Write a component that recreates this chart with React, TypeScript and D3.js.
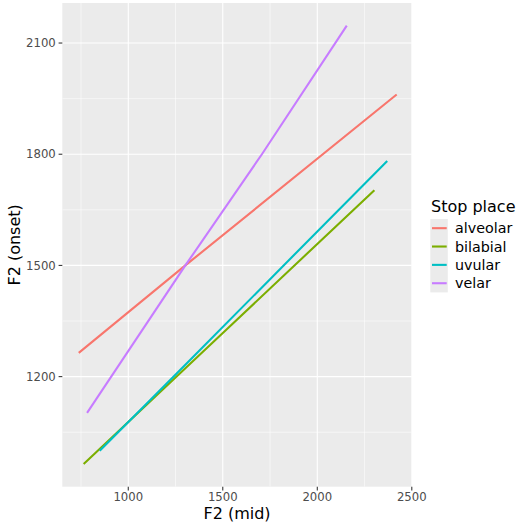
import React from "react";
import * as d3 from "d3";

const W = 519;
const H = 527;

const places = ["alveolar", "bilabial", "uvular", "velar"];
const colors = ["#F8766D", "#7CAE00", "#00BFC4", "#C77CFF"];

const alveolarX = [738, 1302, 2420];
const alveolarY = [1264, 1500, 1961];
const bilabialX = [764, 1503, 2302];
const bilabialY = [964, 1319, 1703];
const uvularX = [849, 1327, 2370];
const uvularY = [1000, 1245, 1782];
const velarX = [782, 1302, 1707, 2156];
const velarY = [1102, 1500, 1800, 2147];

const xTicks = [1000, 1500, 2000, 2500];
const xMinor = [750, 1250, 1750, 2250];
const yTicks = [1200, 1500, 1800, 2100];
const yMinor = [1050, 1350, 1650, 1950];

const seriesX = [alveolarX, bilabialX, uvularX, velarX];
const seriesY = [alveolarY, bilabialY, uvularY, velarY];

const FONT = "DejaVu Sans, sans-serif";

export default function App() {
  const panel = { left: 62.3, right: 411.8, top: 3, bottom: 486.7 };
  const x = d3.scaleLinear().domain([651, 2500]).range([panel.left, panel.right]);
  const y = d3.scaleLinear().domain([903, 2208]).range([panel.bottom, panel.top]);

  const line = d3
    .line<[number, number]>()
    .x((d) => x(d[0]))
    .y((d) => y(d[1]));

  const keyTop = 219;
  const keyH = 18.35;

  return (
    <svg
      width={W}
      height={H}
      style={{ position: "absolute", left: 0, top: 0, background: "#fff" }}
      fontFamily={FONT}
    >
      <rect
        x={panel.left}
        y={panel.top}
        width={panel.right - panel.left}
        height={panel.bottom - panel.top}
        fill="#EBEBEB"
      />
      <clipPath id="clip">
        <rect
          x={panel.left}
          y={panel.top}
          width={panel.right - panel.left}
          height={panel.bottom - panel.top}
        />
      </clipPath>
      <g clipPath="url(#clip)">
        {xMinor.map((t) => (
          <line key={"xm" + t} x1={x(t)} x2={x(t)} y1={panel.top} y2={panel.bottom} stroke="#fff" strokeWidth={0.55} />
        ))}
        {yMinor.map((t) => (
          <line key={"ym" + t} y1={y(t)} y2={y(t)} x1={panel.left} x2={panel.right} stroke="#fff" strokeWidth={0.55} />
        ))}
        {xTicks.map((t) => (
          <line key={"xM" + t} x1={x(t)} x2={x(t)} y1={panel.top} y2={panel.bottom} stroke="#fff" strokeWidth={1.1} />
        ))}
        {yTicks.map((t) => (
          <line key={"yM" + t} y1={y(t)} y2={y(t)} x1={panel.left} x2={panel.right} stroke="#fff" strokeWidth={1.1} />
        ))}
        {places.map((p, i) => {
          const pts = seriesX[i].map((v, j) => [v, seriesY[i][j]] as [number, number]);
          return (
            <path key={p} d={line(pts) || ""} fill="none" stroke={colors[i]} strokeWidth={2.1} />
          );
        })}
      </g>
      {/* x axis */}
      {xTicks.map((t) => (
        <g key={"xt" + t}>
          <line x1={x(t)} x2={x(t)} y1={panel.bottom} y2={panel.bottom + 3.7} stroke="#333" strokeWidth={1.07} />
          <text x={x(t)} y={panel.bottom + 14.5} textAnchor="middle" fontSize={11.7} fill="#4D4D4D">
            {t}
          </text>
        </g>
      ))}
      {yTicks.map((t) => (
        <g key={"yt" + t}>
          <line x1={panel.left - 3.7} x2={panel.left} y1={y(t)} y2={y(t)} stroke="#333" strokeWidth={1.07} />
          <text x={panel.left - 6.5} y={y(t)} dy="0.36em" textAnchor="end" fontSize={11.7} fill="#4D4D4D">
            {t}
          </text>
        </g>
      ))}
      <text x={(panel.left + panel.right) / 2} y={518.5} textAnchor="middle" fontSize={16} fill="#000">
        F2 (mid)
      </text>
      <text
        transform={`translate(20, ${(panel.top + panel.bottom) / 2}) rotate(-90)`}
        textAnchor="middle"
        fontSize={16}
        fill="#000"
      >
        F2 (onset)
      </text>
      {/* legend */}
      <text x={431} y={211.7} fontSize={16} fill="#000">
        Stop place
      </text>
      <rect x={430.3} y={keyTop} width={17.5} height={keyH * 4} fill="#EBEBEB" />
      {places.map((p, i) => {
        const cy = keyTop + keyH * i + keyH / 2;
        return (
          <g key={"lg" + p}>
            <line x1={432} x2={446.7} y1={cy} y2={cy} stroke={colors[i]} strokeWidth={2.1} />
            <text x={455} y={cy} dy="0.35em" fontSize={14.3} fill="#000">
              {p}
            </text>
          </g>
        );
      })}
    </svg>
  );
}
